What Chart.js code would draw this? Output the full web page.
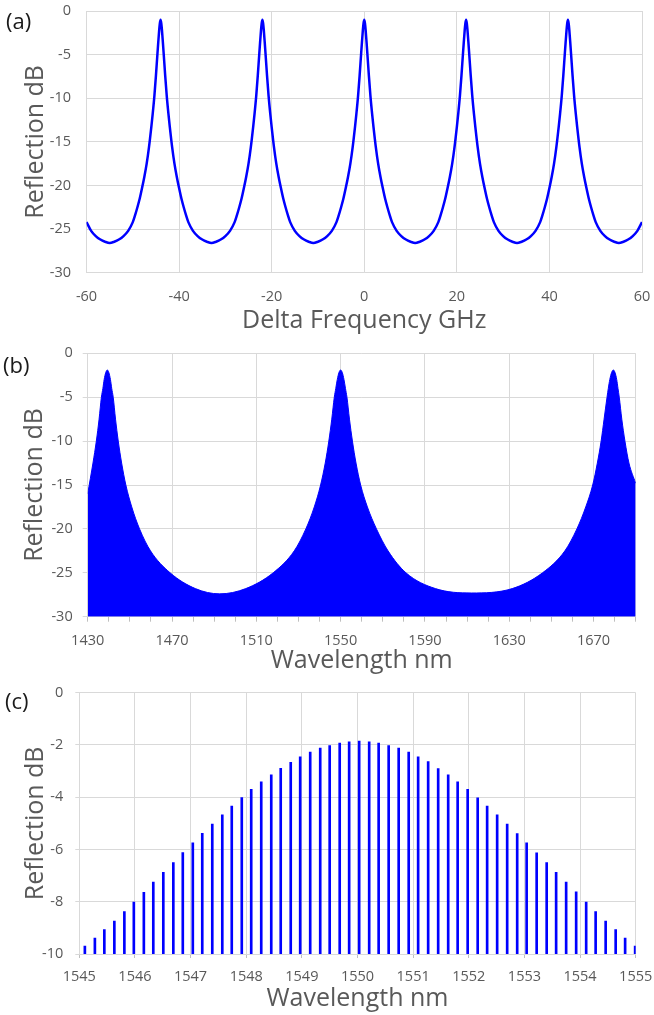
<!DOCTYPE html>
<html>
<head>
<meta charset="utf-8">
<title>Reflection spectra</title>
<script src="https://cdn.jsdelivr.net/npm/chart.js@4.4.1/dist/chart.umd.min.js"></script>
<style>
  html, body { margin: 0; padding: 0; background: #fff; }
  body { width: 654px; height: 1015px; position: relative; overflow: hidden; font-family: "Open Sans", sans-serif; }
  canvas { position: absolute; left: 0; }
  .tag { position: absolute; font-size: 22px; line-height: 22px; color: #1a1a1a; font-family: "Open Sans", sans-serif; }
</style>
</head>
<body>
<canvas id="chartA" width="654" height="340" style="top:0px"></canvas>
<canvas id="chartB" width="654" height="345" style="top:330px"></canvas>
<canvas id="chartC" width="654" height="350" style="top:665px"></canvas>
<div class="tag" style="left:6px; top:9px">(a)</div>
<div class="tag" style="left:3px; top:353px">(b)</div>
<div class="tag" style="left:5px; top:689px">(c)</div>

<script>
// (a) reflection vs delta frequency
const freqA = [
    -60, -59, -58, -57, -56, -55,
    -54, -53, -52, -51, -50, -49.5, -49, -48.5, -48, -47.5, -47, -46.5, -46, -45.7, -45.33, -45, -44.7, -44.5, -44.3, -44.15,
    -44,
    -43.85, -43.7, -43.5, -43.3, -43, -42.67, -42.3, -42, -41.5, -41, -40.5, -40, -39.5, -39, -38.5, -38, -37, -36, -35, -34,
    -33,
    -32, -31, -30, -29, -28, -27.5, -27, -26.5, -26, -25.5, -25, -24.5, -24, -23.7, -23.33, -23, -22.7, -22.5, -22.3, -22.15,
    -22,
    -21.85, -21.7, -21.5, -21.3, -21, -20.67, -20.3, -20, -19.5, -19, -18.5, -18, -17.5, -17, -16.5, -16, -15, -14, -13, -12,
    -11,
    -10, -9, -8, -7, -6, -5.5, -5, -4.5, -4, -3.5, -3, -2.5, -2, -1.7, -1.33, -1, -0.7, -0.5, -0.3, -0.15,
    0,
    0.15, 0.3, 0.5, 0.7, 1, 1.33, 1.7, 2, 2.5, 3, 3.5, 4, 4.5, 5, 5.5, 6, 7, 8, 9, 10,
    11,
    12, 13, 14, 15, 16, 16.5, 17, 17.5, 18, 18.5, 19, 19.5, 20, 20.3, 20.67, 21, 21.3, 21.5, 21.7, 21.85,
    22,
    22.15, 22.3, 22.5, 22.7, 23, 23.33, 23.7, 24, 24.5, 25, 25.5, 26, 26.5, 27, 27.5, 28, 29, 30, 31, 32,
    33,
    34, 35, 36, 37, 38, 38.5, 39, 39.5, 40, 40.5, 41, 41.5, 42, 42.3, 42.67, 43, 43.3, 43.5, 43.7, 43.85,
    44,
    44.15, 44.3, 44.5, 44.7, 45, 45.33, 45.7, 46, 46.5, 47, 47.5, 48, 48.5, 49, 49.5, 50, 51, 52, 53, 54,
    55,
    56, 57, 58, 59, 60
];
const reflA = [
    -24.2, -25.2, -25.8, -26.2, -26.45, -26.6,
    -26.45, -26.2, -25.8, -25.2, -24.2, -23.4, -22.5, -21.5, -20.3, -19.0, -17.5, -15.6, -13.3, -11.8, -9.7, -7.4, -5.1, -3.6, -2.2, -1.4,
    -1.0,
    -1.4, -2.2, -3.6, -5.1, -7.4, -9.7, -11.8, -13.3, -15.6, -17.5, -19.0, -20.3, -21.5, -22.5, -23.4, -24.2, -25.2, -25.8, -26.2, -26.45,
    -26.6,
    -26.45, -26.2, -25.8, -25.2, -24.2, -23.4, -22.5, -21.5, -20.3, -19.0, -17.5, -15.6, -13.3, -11.8, -9.7, -7.4, -5.1, -3.6, -2.2, -1.4,
    -1.0,
    -1.4, -2.2, -3.6, -5.1, -7.4, -9.7, -11.8, -13.3, -15.6, -17.5, -19.0, -20.3, -21.5, -22.5, -23.4, -24.2, -25.2, -25.8, -26.2, -26.45,
    -26.6,
    -26.45, -26.2, -25.8, -25.2, -24.2, -23.4, -22.5, -21.5, -20.3, -19.0, -17.5, -15.6, -13.3, -11.8, -9.7, -7.4, -5.1, -3.6, -2.2, -1.4,
    -1.0,
    -1.4, -2.2, -3.6, -5.1, -7.4, -9.7, -11.8, -13.3, -15.6, -17.5, -19.0, -20.3, -21.5, -22.5, -23.4, -24.2, -25.2, -25.8, -26.2, -26.45,
    -26.6,
    -26.45, -26.2, -25.8, -25.2, -24.2, -23.4, -22.5, -21.5, -20.3, -19.0, -17.5, -15.6, -13.3, -11.8, -9.7, -7.4, -5.1, -3.6, -2.2, -1.4,
    -1.0,
    -1.4, -2.2, -3.6, -5.1, -7.4, -9.7, -11.8, -13.3, -15.6, -17.5, -19.0, -20.3, -21.5, -22.5, -23.4, -24.2, -25.2, -25.8, -26.2, -26.45,
    -26.6,
    -26.45, -26.2, -25.8, -25.2, -24.2, -23.4, -22.5, -21.5, -20.3, -19.0, -17.5, -15.6, -13.3, -11.8, -9.7, -7.4, -5.1, -3.6, -2.2, -1.4,
    -1.0,
    -1.4, -2.2, -3.6, -5.1, -7.4, -9.7, -11.8, -13.3, -15.6, -17.5, -19.0, -20.3, -21.5, -22.5, -23.4, -24.2, -25.2, -25.8, -26.2, -26.45,
    -26.6,
    -26.45, -26.2, -25.8, -25.2, -24.2
];
const xTicksA = [-60, -40, -20, 0, 20, 40, 60];
const yTicksA = [-30, -25, -20, -15, -10, -5, 0];

// (b) reflection envelope vs wavelength
const waveB = [
    1430, 1432.5, 1434.1, 1435.4, 1436.5, 1437.2, 1437.8, 1438.56, 1439.3,
    1440.04, 1440.8, 1441.4, 1442.1, 1443.2, 1444.5, 1446.1, 1448.1, 1450.9, 1454.6, 1459.8, 1469.1, 1481.1, 1492.6,
    1505, 1518, 1528, 1533.5, 1537.5, 1540.5, 1542.7, 1544.4, 1545.8, 1547, 1547.7, 1548.4, 1549.2, 1550,
    1550.8, 1551.6, 1552.3, 1553, 1554.2, 1555.6, 1557.3, 1559.5, 1562.7, 1567, 1572.5, 1581, 1595, 1612,
    1631.4, 1645.8, 1656.4, 1662.1, 1666.3, 1669.6, 1671.8, 1673.6, 1675, 1676.4, 1677, 1677.7, 1678.56, 1679.4,
    1680.2, 1681, 1681.6, 1682.2, 1683.4, 1684.9, 1686.8, 1690
];
const reflB = [
    -16.0, -12.5, -10.0, -7.5, -5.0, -4.0, -3.0, -2.2, -1.9,
    -2.2, -3.0, -4.0, -5.0, -7.5, -10.0, -12.5, -15.0, -17.5, -20.0, -22.5, -25.0, -26.8, -27.4,
    -26.8, -25.0, -22.5, -20.0, -17.5, -15.0, -12.5, -10.0, -7.5, -5.0, -4.0, -3.0, -2.2, -1.9,
    -2.2, -3.0, -4.0, -5.0, -7.5, -10.0, -12.5, -15.0, -17.5, -20.0, -22.5, -25.0, -26.8, -27.3,
    -26.8, -25.0, -22.5, -20.0, -17.5, -15.0, -12.5, -10.0, -7.5, -5.0, -4.0, -3.0, -2.2, -1.9,
    -2.2, -3.0, -4.0, -5.0, -7.5, -10.0, -12.5, -14.8
];
const xTicksB = [1430, 1440, 1450, 1460, 1470, 1480, 1490, 1500, 1510, 1520, 1530, 1540, 1550, 1560,
    1570, 1580, 1590, 1600, 1610, 1620, 1630, 1640, 1650, 1660, 1670, 1680, 1690];
const xLabelsB = [1430, 1470, 1510, 1550, 1590, 1630, 1670];
const yTicksB = [-30, -25, -20, -15, -10, -5, 0];

// (c) comb lines around 1550 nm
const waveC = [
    1545.10, 1545.28, 1545.45, 1545.63, 1545.81, 1545.98, 1546.16, 1546.33, 1546.51, 1546.69,
    1546.86, 1547.04, 1547.21, 1547.39, 1547.57, 1547.74, 1547.92, 1548.09, 1548.27, 1548.45,
    1548.62, 1548.80, 1548.97, 1549.15, 1549.33, 1549.50, 1549.68, 1549.85, 1550.03, 1550.21,
    1550.38, 1550.56, 1550.74, 1550.92, 1551.09, 1551.27, 1551.45, 1551.63, 1551.80, 1551.98,
    1552.16, 1552.33, 1552.51, 1552.69, 1552.87, 1553.04, 1553.22, 1553.40, 1553.57, 1553.75,
    1553.93, 1554.11, 1554.28, 1554.46, 1554.64, 1554.81, 1554.99
];
const reflC = [
    -9.70, -9.39, -9.07, -8.74, -8.38, -8.01, -7.64, -7.25, -6.87, -6.50,
    -6.12, -5.75, -5.38, -5.03, -4.67, -4.34, -4.01, -3.70, -3.41, -3.14,
    -2.89, -2.66, -2.45, -2.27, -2.12, -2.02, -1.93, -1.88, -1.85, -1.88,
    -1.93, -2.02, -2.12, -2.27, -2.45, -2.64, -2.90, -3.14, -3.41, -3.70,
    -4.02, -4.34, -4.67, -5.03, -5.39, -5.75, -6.13, -6.50, -6.87, -7.25,
    -7.62, -8.01, -8.38, -8.74, -9.07, -9.39, -9.70
];
const xTicksC = [1545, 1546, 1547, 1548, 1549, 1550, 1551, 1552, 1553, 1554, 1555];
const yTicksC = [-10, -8, -6, -4, -2, 0];

const GRID = '#d9d9d9';
const TEXT = '#595959';
const BLUE = '#0000ff';
const tickFont = { family: 'Open Sans', size: 14.5 };
const titleFont = { family: 'Open Sans', size: 25, lineHeight: 1 };

function fixedTicks(values) {
    return function (scale) {
        scale.ticks = values.map(v => ({ value: v }));
    };
}

function yScale(values, width, tickLen, pad, titlePad) {
    return {
        type: 'linear',
        min: values[0],
        max: values[values.length - 1],
        afterBuildTicks: fixedTicks(values),
        afterFit: function (scale) {
            scale.width = width;
            scale.paddingTop = 0;
            scale.paddingBottom = 0;
        },
        grid: { color: GRID, drawTicks: tickLen > 0, tickLength: tickLen, tickColor: GRID },
        border: { color: GRID },
        ticks: { color: TEXT, font: tickFont, padding: pad, callback: v => String(v) },
        title: { display: true, text: 'Reflection dB', color: TEXT, font: titleFont, padding: { top: titlePad, bottom: 0 } }
    };
}

function xScale(values, height, tickLen, pad, titleText, titlePad) {
    return {
        type: 'linear',
        min: values[0],
        max: values[values.length - 1],
        offset: false,
        afterBuildTicks: fixedTicks(values),
        afterFit: function (scale) {
            scale.height = height;
            scale.paddingLeft = 0;
            scale.paddingRight = 0;
        },
        grid: { color: GRID, offset: false, drawTicks: tickLen > 0, tickLength: tickLen, tickColor: '#bfbfbf' },
        border: { color: GRID },
        ticks: { color: TEXT, font: tickFont, padding: pad, autoSkip: false, maxRotation: 0, callback: v => String(v) },
        title: { display: true, text: titleText, color: TEXT, font: titleFont, padding: { top: 0, bottom: titlePad } }
    };
}

const common = {
    responsive: false,
    animation: false,
    devicePixelRatio: 1,
    events: [],
    plugins: { legend: { display: false }, tooltip: { enabled: false } }
};

// Chart (a)
new Chart(document.getElementById('chartA'), {
    type: 'line',
    data: {
        datasets: [{
            data: freqA.map((x, i) => ({ x: x, y: reflA[i] })),
            borderColor: BLUE,
            borderWidth: 2.5,
            pointRadius: 0,
            fill: false,
            cubicInterpolationMode: 'monotone'
        }]
    },
    options: Object.assign({}, common, {
        layout: { padding: { top: 11, right: 12, bottom: 0, left: 0 } },
        scales: {
            x: xScale(xTicksA, 67.3, 0, 15.6, 'Delta Frequency GHz', 6.9),
            y: yScale(yTicksA, 86.5, 0, 15.5, 22.9)
        }
    })
});

// Chart (b)
const bx = xScale(xTicksB, 58.3, 5, 10.6, 'Wavelength nm', 1.3);
bx.grid.color = function (ctx) {
    if (!ctx.tick) return GRID;
    const v = ctx.tick.value;
    return (xLabelsB.includes(v) || v === 1690) ? GRID : 'rgba(0,0,0,0)';
};
bx.ticks.callback = function (value) {
    return xLabelsB.includes(value) ? String(value) : '';
};
new Chart(document.getElementById('chartB'), {
    type: 'line',
    data: {
        datasets: [{
            data: waveB.map((x, i) => ({ x: x, y: reflB[i] })),
            borderColor: BLUE,
            backgroundColor: BLUE,
            borderWidth: 1,
            pointRadius: 0,
            fill: 'start',
            cubicInterpolationMode: 'monotone'
        }]
    },
    options: Object.assign({}, common, {
        layout: { padding: { top: 23.3, right: 18.3, bottom: 0, left: 0 } },
        scales: {
            x: bx,
            y: yScale(yTicksB, 87.7, 5, 10, 22.1)
        }
    })
});

// Chart (c)
new Chart(document.getElementById('chartC'), {
    type: 'bar',
    data: {
        datasets: [{
            data: waveC.map((x, i) => ({ x: x, y: [-10, reflC[i]] })),
            backgroundColor: BLUE,
            borderWidth: 0,
            barThickness: 2
        }]
    },
    options: Object.assign({}, common, {
        layout: { padding: { top: 27.7, right: 18.3, bottom: 0, left: 0 } },
        scales: {
            x: xScale(xTicksC, 61, 4, 10, 'Wavelength nm', 3.9),
            y: yScale(yTicksC, 79.3, 4, 12, 23.7)
        }
    })
});
</script>
</body>
</html>
